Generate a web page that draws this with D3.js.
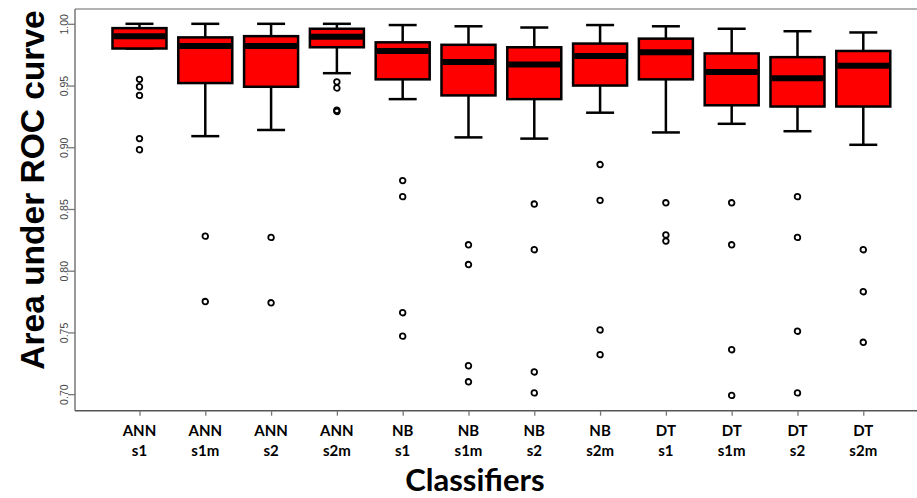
<!DOCTYPE html>
<html>
<head>
<meta charset="utf-8">
<script src="https://cdn.jsdelivr.net/npm/d3@7"></script>
<style>
  body { margin: 0; background: #fff; }
  svg { display: block; }
</style>
</head>
<body>
<svg id="chart" width="917" height="498"></svg>
<script>
// classifier labels (two lines under each tick)
var labelTop = ["ANN","ANN","ANN","ANN","NB","NB","NB","NB","DT","DT","DT","DT"]
var labelBottom = ["s1","s1m","s2","s2m","s1","s1m","s2","s2m","s1","s1m","s2","s2m"]

// box statistics
var whiskerHigh = [1.000, 1.000, 1.000, 1.000, 0.999, 0.998, 0.997, 0.999, 0.998, 0.996, 0.994, 0.993]
var q3          = [0.9965, 0.989, 0.990, 0.996, 0.985, 0.983, 0.981, 0.984, 0.988, 0.976, 0.973, 0.978]
var median      = [0.990, 0.982, 0.982, 0.9895, 0.978, 0.969, 0.967, 0.974, 0.977, 0.961, 0.956, 0.966]
var q1          = [0.980, 0.952, 0.949, 0.981, 0.955, 0.942, 0.939, 0.950, 0.955, 0.934, 0.933, 0.933]
var whiskerLow  = [0.980, 0.909, 0.914, 0.960, 0.939, 0.908, 0.907, 0.928, 0.912, 0.919, 0.913, 0.902]
var outliers = [
  [0.955, 0.949, 0.942, 0.907, 0.898],
  [0.828, 0.775],
  [0.827, 0.774],
  [0.953, 0.948, 0.930, 0.929],
  [0.873, 0.860, 0.766, 0.747],
  [0.821, 0.805, 0.723, 0.710],
  [0.854, 0.817, 0.718, 0.701],
  [0.886, 0.857, 0.752, 0.732],
  [0.855, 0.829, 0.824],
  [0.855, 0.821, 0.736, 0.699],
  [0.860, 0.827, 0.751, 0.701],
  [0.817, 0.783, 0.742]
]
var yTicks = [0.70, 0.75, 0.80, 0.85, 0.90, 0.95, 1.00]

var svg = d3.select("#chart")
var n = labelTop.length

// R style: positions 1..n, limits 0.5..n+0.5 stretched by 4%
var x = d3.scaleLinear().domain([0.02, n + 0.98]).range([75, 75 + 12.96 * 65.8])
var y = d3.scaleLinear().domain([0.6866, 1.012]).range([410.7, 9])

var boxW = 54, capW = 28

// frame: top line and left axis line
svg.append("line")
  .attr("x1", x.range()[0]).attr("x2", x.range()[1])
  .attr("y1", y.range()[1]).attr("y2", y.range()[1])
  .attr("stroke", "#999").attr("stroke-width", 1.5)

var yAxis = d3.axisLeft(y).tickValues(yTicks).tickSize(7).tickFormat(d3.format(".2f"))
var gy = svg.append("g").attr("transform", "translate(75,0)").call(yAxis)
gy.select(".domain").attr("d", "M0," + y.range()[1] + "V" + y.range()[0]).attr("stroke", "#777").attr("stroke-width", 1.5)
gy.selectAll(".tick line").attr("stroke", "#777").attr("stroke-width", 1.3)
gy.selectAll(".tick text")
  .attr("x", null).attr("y", null)
  .attr("transform", "translate(-11,0) rotate(-90)")
  .attr("dy", "0.35em")
  .attr("text-anchor", "middle")
  .style("font-family", "'Liberation Sans', Arial, sans-serif")
  .style("font-size", "10.5px")
  .attr("fill", "#444")

var idx = d3.range(n)
var xAxis = d3.axisBottom(x).tickValues(idx.map(function(i) { return i + 1; })).tickSize(5).tickFormat("")
var gx = svg.append("g").attr("transform", "translate(0," + y.range()[0] + ")").call(xAxis)
gx.select(".domain").attr("d", "M" + x.range()[0] + ",0H" + x.range()[1]).attr("stroke", "#555").attr("stroke-width", 1.5)
gx.selectAll(".tick line").attr("stroke", "#777").attr("stroke-width", 1.3)

// boxes
var box = svg.selectAll(".box")
  .data(idx)
  .enter()
  .append("g")
  .attr("class", "box")
  .attr("transform", function(i) { return "translate(" + x(i + 1) + ",0)"; })

box.append("line")
  .attr("x1", 0).attr("x2", 0)
  .attr("y1", function(i) { return y(whiskerHigh[i]); })
  .attr("y2", function(i) { return y(q3[i]); })
  .attr("stroke", "#000").attr("stroke-width", 2.5)
box.append("line")
  .attr("x1", 0).attr("x2", 0)
  .attr("y1", function(i) { return y(q1[i]); })
  .attr("y2", function(i) { return y(whiskerLow[i]); })
  .attr("stroke", "#000").attr("stroke-width", 2.5)
box.append("line")
  .attr("x1", -capW / 2).attr("x2", capW / 2)
  .attr("y1", function(i) { return y(whiskerHigh[i]); })
  .attr("y2", function(i) { return y(whiskerHigh[i]); })
  .attr("stroke", "#000").attr("stroke-width", 2.5)
box.append("line")
  .attr("x1", -capW / 2).attr("x2", capW / 2)
  .attr("y1", function(i) { return y(whiskerLow[i]); })
  .attr("y2", function(i) { return y(whiskerLow[i]); })
  .attr("stroke", "#000").attr("stroke-width", 2.5)

box.append("rect")
  .attr("x", -boxW / 2)
  .attr("width", boxW)
  .attr("y", function(i) { return y(q3[i]); })
  .attr("height", function(i) { return y(q1[i]) - y(q3[i]); })
  .attr("fill", "#ff0000")
  .attr("stroke", "#000").attr("stroke-width", 2.5)

box.append("line")
  .attr("x1", -boxW / 2 + 1).attr("x2", boxW / 2 - 1)
  .attr("y1", function(i) { return y(median[i]); })
  .attr("y2", function(i) { return y(median[i]); })
  .attr("stroke", "#000").attr("stroke-width", 6)

box.selectAll("circle")
  .data(function(i) { return outliers[i]; })
  .enter()
  .append("circle")
  .attr("cx", 0)
  .attr("cy", function(d) { return y(d); })
  .attr("r", 2.8)
  .attr("fill", "none")
  .attr("stroke", "#000").attr("stroke-width", 1.8)

// tick labels, two lines
var lab = svg.selectAll(".xlab")
  .data(idx)
  .enter()
  .append("text")
  .attr("class", "xlab")
  .attr("text-anchor", "middle")
  .style("font-family", "Lato, 'Open Sans', sans-serif")
  .style("font-weight", "bold")
  .style("font-size", "15px")
  .attr("fill", "#000")
lab.append("tspan")
  .attr("x", function(i) { return x(i + 1); })
  .attr("y", 436)
  .text(function(i) { return labelTop[i]; })
lab.append("tspan")
  .attr("x", function(i) { return x(i + 1); })
  .attr("y", 456)
  .text(function(i) { return labelBottom[i]; })

// axis titles
svg.append("text")
  .attr("x", 475).attr("y", 491)
  .attr("text-anchor", "middle")
  .style("font-family", "Lato, 'Open Sans', sans-serif")
  .style("font-weight", "bold")
  .style("font-size", "31px")
  .text("Classifiers")

svg.append("text")
  .attr("transform", "translate(44,190) rotate(-90)")
  .attr("text-anchor", "middle")
  .style("font-family", "'Liberation Sans', Arial, sans-serif")
  .style("font-weight", "bold")
  .style("font-size", "33.5px")
  .text("Area under ROC curve")
</script>
</body>
</html>
